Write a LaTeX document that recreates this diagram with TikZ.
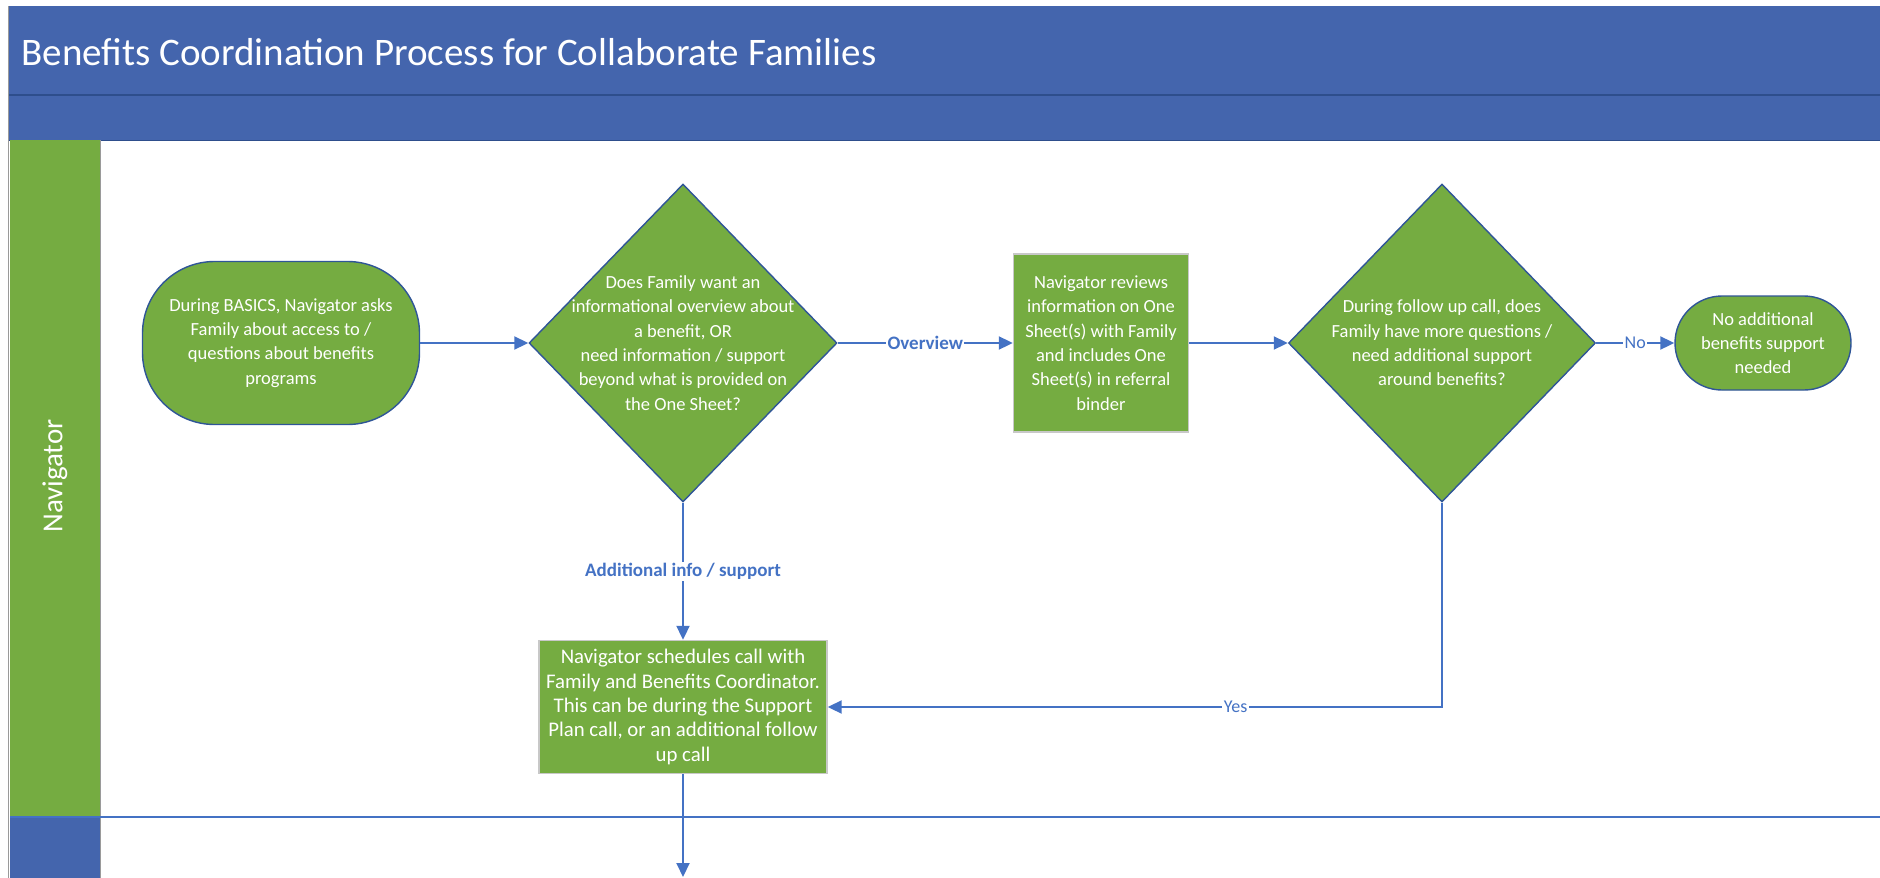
\documentclass[tikz,border=0pt]{standalone}
\usepackage{fontspec}
\setmainfont{Carlito}
\usetikzlibrary{shapes.geometric,arrows.meta}

\definecolor{bandblue}{HTML}{4465AD}
\definecolor{bandline}{HTML}{2E4E8C}
\definecolor{flowgreen}{HTML}{75AC41}
\definecolor{shapeedge}{HTML}{2F5597}
\definecolor{linkblue}{HTML}{4472C4}
\definecolor{boxedge}{HTML}{C8C8C8}
\definecolor{frameedge}{HTML}{9A9A9A}

\tikzset{
  bodytext/.style={text=white, align=center, font=\fontsize{18.5}{24.3}\selectfont},
  terminal/.style={rectangle, fill=flowgreen, draw=shapeedge, line width=1.4pt, inner sep=0pt},
  processbox/.style={rectangle, fill=flowgreen, draw=boxedge, line width=1.4pt, inner sep=0pt, bodytext},
  decision/.style={diamond, fill=flowgreen, draw=shapeedge, line width=1.4pt, inner sep=0pt},
  link/.style={draw=linkblue, line width=2pt, -{Triangle[length=14pt,width=13pt]}},
  edgelabel/.style={fill=white, inner sep=1.5pt, text=linkblue, font=\fontsize{18}{22}\selectfont},
  edgelabelbold/.style={edgelabel, font=\fontsize{19}{22}\selectfont\bfseries},
}

\begin{document}
\begin{tikzpicture}[x=1pt, y=-1pt]
\useasboundingbox (0,0) rectangle (1880,878);

% header bands
\fill[bandblue] (8,6) rectangle (1880,140);
\draw[bandline, line width=1.2pt] (8,95) -- (1880,95);
\draw[bandline, line width=0.8pt] (8,140) -- (1880,140);
\node[anchor=west, text=white, font=\fontsize{39}{46}\selectfont] (title) at (18,52)
  {Benefits Coordination Process for Collaborate Families};

% swimlane header column
\fill[flowgreen] (10,140) rectangle (100,817);
\fill[bandblue] (10,817) rectangle (100,878);
\draw[frameedge, line width=0.8pt] (100,140) -- (100,878);
\draw[frameedge, line width=1pt] (8,6) -- (8,878);
\draw[linkblue, line width=2pt] (10,817) -- (1880,817);
\node[rotate=90, text=white, font=\fontsize{29}{32}\selectfont] (lane) at (55,476) {Navigator};

% flow nodes
\node[terminal, rounded corners=72pt, minimum width=277pt, minimum height=163pt] (start) at (281,343) {};
\node[bodytext] at (start) {During BASICS, Navigator asks\\Family about access to /\\questions about benefits\\programs};

\node[decision, minimum width=308pt, minimum height=318pt] (q1) at (683,343) {};
\node[bodytext] at (q1) {Does Family want an\\informational overview about\\a benefit, OR\\need information / support\\beyond what is provided on\\the One Sheet?};

\node[processbox, minimum width=175pt, minimum height=178pt] (review) at (1101,343)
  {Navigator reviews\\information on One\\Sheet(s) with Family\\and includes One\\Sheet(s) in referral\\binder};

\node[decision, minimum width=307pt, minimum height=318pt] (q2) at (1442,343) {};
\node[bodytext] at (q2) {During follow up call, does\\Family have more questions /\\need additional support\\around benefits?};

\node[terminal, rounded corners=47pt, minimum width=176pt, minimum height=94pt] (done) at (1763,343) {};
\node[bodytext] at (done) {No additional\\benefits support\\needed};

\node[processbox, minimum width=288pt, minimum height=133pt, font=\fontsize{20.8}{24.3}\selectfont] (schedule) at (683,707)
  {Navigator schedules call with\\Family and Benefits Coordinator.\\This can be during the Support\\Plan call, or an additional follow\\up call};

\coordinate (exit) at (683,877);

% connectors
\draw[link] (start) -- (q1);
\draw[link] (q1) -- node[edgelabelbold] {Overview} (review);
\draw[link] (review) -- (q2);
\draw[link] (q2) -- node[edgelabel] {No} (done);
\draw[link] (q1.south) -- node[edgelabelbold] {Additional info / support} (schedule.north);
\draw[link] (q2.south) |- node[edgelabel, pos=0.668] {Yes} (schedule.east);
\draw[link] (schedule.south) -- (exit);
\end{tikzpicture}
\end{document}
